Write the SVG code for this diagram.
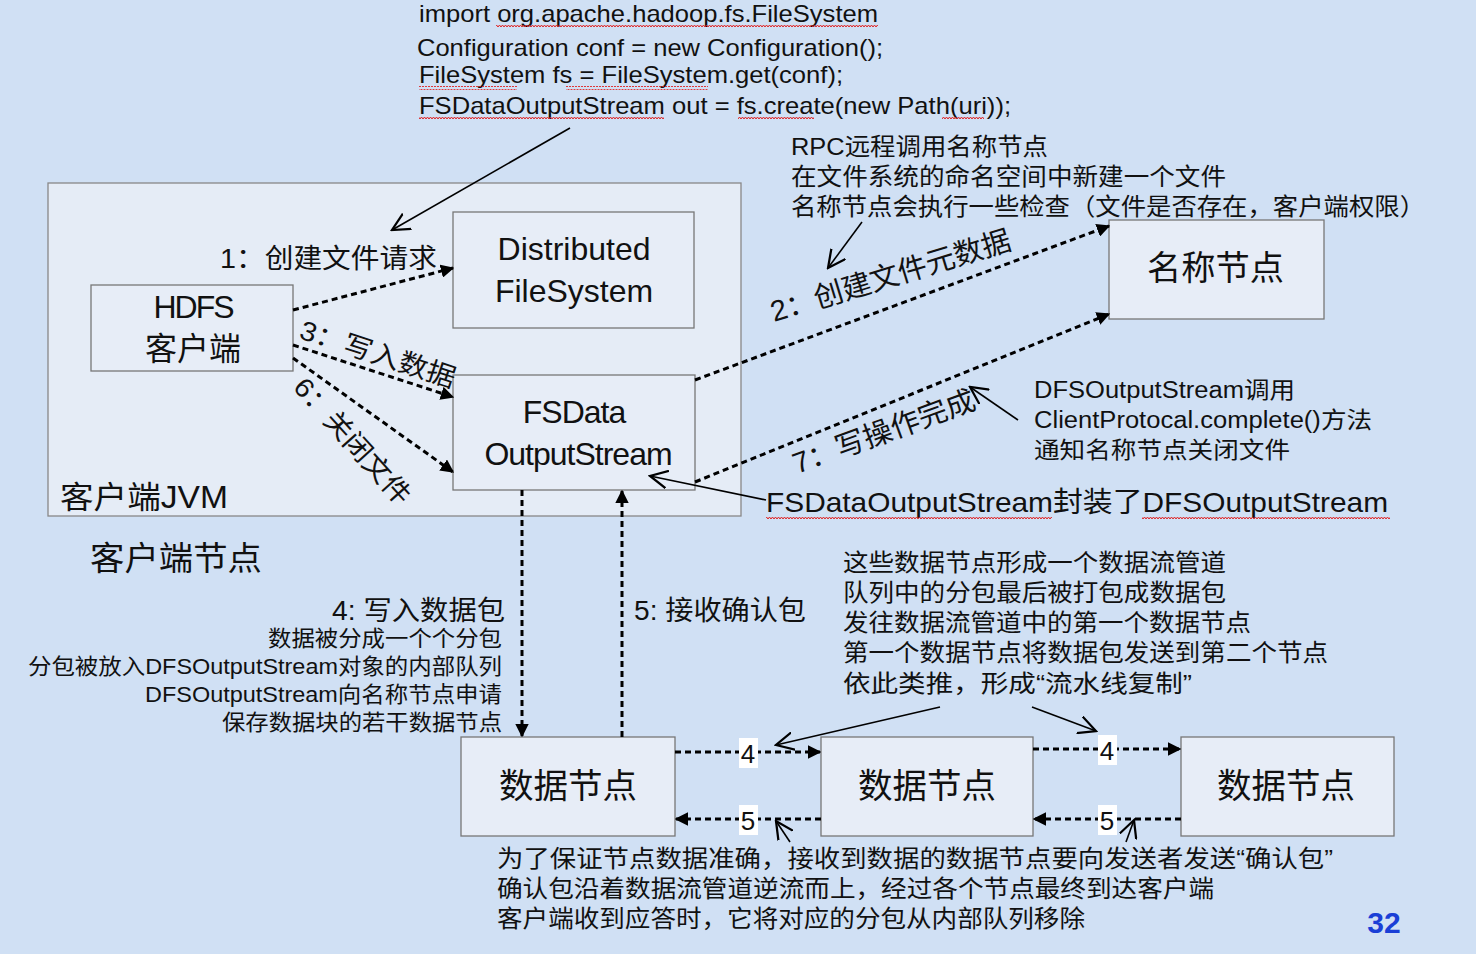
<svg xmlns="http://www.w3.org/2000/svg" width="1476" height="954" viewBox="0 0 1476 954">
<style>
text{font-family:"Liberation Sans","Noto Sans CJK SC",sans-serif;fill:#111}
.box{fill:#e7edf7;stroke:#777;stroke-width:1.3}
.dash{fill:none;stroke:#000;stroke-width:3;stroke-dasharray:6 4}
.thin{fill:none;stroke:#000;stroke-width:1.6}
.code{font-size:24px}
.cn{font-size:24px}
.big{font-size:34px}
.nd{font-size:34px}
</style>
<defs>
<marker id="fa" viewBox="0 0 10 10" refX="9" refY="5" markerWidth="4.5" markerHeight="4.5" orient="auto" markerUnits="strokeWidth"><path d="M0,0 L10,5 L0,10 z" fill="#000"/></marker>
<marker id="oa" viewBox="0 0 12 12" refX="11" refY="6" markerWidth="12" markerHeight="12" orient="auto" markerUnits="strokeWidth"><path d="M0,0.5 L11,6 L0,11.5" fill="none" stroke="#000" stroke-width="1.4"/></marker>
<pattern id="wave" width="6" height="4" patternUnits="userSpaceOnUse"><path d="M0,3 L1.5,1 L3,3 L4.5,1 L6,3" fill="none" stroke="#e02020" stroke-width="1"/></pattern>
</defs>
<rect x="0" y="0" width="1476" height="954" fill="#d0e0f4"/>

<g id="code">
<text class="code" x="419" y="22" textLength="459" lengthAdjust="spacingAndGlyphs">import org.apache.hadoop.fs.FileSystem</text>
<text class="code" x="417" y="56" textLength="466" lengthAdjust="spacingAndGlyphs">Configuration conf = new Configuration();</text>
<text class="code" x="419" y="83" textLength="424" lengthAdjust="spacingAndGlyphs">FileSystem fs = FileSystem.get(conf);</text>
<text class="code" x="419" y="114" textLength="592" lengthAdjust="spacingAndGlyphs">FSDataOutputStream out = fs.create(new Path(uri));</text>
<rect x="496" y="24" width="382" height="4" fill="url(#wave)"/>
<rect x="419" y="86" width="98" height="4" fill="url(#wave)"/>
<rect x="566" y="86" width="142" height="4" fill="url(#wave)"/>
<rect x="419" y="117" width="245" height="4" fill="url(#wave)"/>
<rect x="738" y="117" width="76" height="4" fill="url(#wave)"/>
<rect x="942" y="117" width="42" height="4" fill="url(#wave)"/>
</g>

<g id="jvm">
<rect x="48" y="183" width="693" height="333" fill="#e5ecf6" stroke="#888" stroke-width="1.3"/>
<text x="60" y="508" style="font-size:31px" textLength="168" lengthAdjust="spacingAndGlyphs">客户端JVM</text>
</g>

<g id="hdfs-client">
<rect class="box" x="91" y="285" width="202" height="86"/>
<text x="193" y="318" style="font-size:32px;letter-spacing:-2px" text-anchor="middle">HDFS</text>
<text x="193" y="360" style="font-size:32px" text-anchor="middle">客户端</text>
</g>

<g id="dfs">
<rect class="box" x="453" y="212" width="241" height="116"/>
<text x="574" y="260" style="font-size:32px" text-anchor="middle">Distributed</text>
<text x="574" y="302" style="font-size:32px" text-anchor="middle">FileSystem</text>
</g>

<g id="fsdos">
<rect class="box" x="453" y="375" width="242" height="115"/>
<text x="574" y="423" style="font-size:32px;letter-spacing:-1px" text-anchor="middle">FSData</text>
<text x="578" y="465" style="font-size:32px;letter-spacing:-1px" text-anchor="middle">OutputStream</text>
</g>

<g id="namenode">
<rect class="box" x="1109" y="220" width="215" height="99"/>
<text x="1147" y="280" class="big" textLength="137" lengthAdjust="spacingAndGlyphs">名称节点</text>
</g>

<g id="dn1">
<rect class="box" x="461" y="737" width="214" height="99"/>
<text x="499" y="798" class="nd" textLength="138" lengthAdjust="spacingAndGlyphs">数据节点</text>
</g>
<g id="dn2">
<rect class="box" x="821" y="737" width="212" height="99"/>
<text x="858" y="798" class="nd" textLength="138" lengthAdjust="spacingAndGlyphs">数据节点</text>
</g>
<g id="dn3">
<rect class="box" x="1181" y="737" width="213" height="99"/>
<text x="1217" y="798" class="nd" textLength="138" lengthAdjust="spacingAndGlyphs">数据节点</text>
</g>

<g id="connectors">
<line class="thin" x1="570" y1="128" x2="392" y2="230" marker-end="url(#oa)"/>
<line class="dash" x1="293" y1="310" x2="453" y2="268" marker-end="url(#fa)"/>
<line class="dash" x1="293" y1="345" x2="453" y2="397" marker-end="url(#fa)"/>
<line class="dash" x1="293" y1="358" x2="453" y2="472" marker-end="url(#fa)"/>
<line class="dash" x1="695" y1="380" x2="1109" y2="226" marker-end="url(#fa)"/>
<line class="dash" x1="695" y1="482" x2="1109" y2="314" marker-end="url(#fa)"/>
<line class="thin" x1="862" y1="222" x2="828" y2="268" marker-end="url(#oa)"/>
<line class="thin" x1="1018" y1="420" x2="970" y2="387" marker-end="url(#oa)"/>
<line class="thin" x1="766" y1="500" x2="650" y2="476" marker-end="url(#oa)"/>
<line class="dash" x1="522" y1="490" x2="522" y2="736" marker-end="url(#fa)"/>
<line class="dash" x1="622" y1="737" x2="622" y2="491" marker-end="url(#fa)"/>
<line class="dash" x1="675" y1="752" x2="820" y2="752" marker-end="url(#fa)"/>
<line class="dash" x1="1033" y1="749" x2="1180" y2="749" marker-end="url(#fa)"/>
<line class="dash" x1="821" y1="819" x2="676" y2="819" marker-end="url(#fa)"/>
<line class="dash" x1="1181" y1="819" x2="1034" y2="819" marker-end="url(#fa)"/>
<line class="thin" x1="940" y1="707" x2="776" y2="745" marker-end="url(#oa)"/>
<line class="thin" x1="1032" y1="707" x2="1096" y2="731" marker-end="url(#oa)"/>
<line class="thin" x1="790" y1="842" x2="776" y2="821" marker-end="url(#oa)"/>
<line class="thin" x1="1126" y1="842" x2="1134" y2="820" marker-end="url(#oa)"/>
<rect x="739" y="738" width="19" height="30" fill="#fff"/>
<text x="748" y="763" style="font-size:26px" text-anchor="middle">4</text>
<rect x="1098" y="735" width="19" height="30" fill="#fff"/>
<text x="1107" y="760" style="font-size:26px" text-anchor="middle">4</text>
<rect x="739" y="805" width="19" height="30" fill="#fff"/>
<text x="748" y="830" style="font-size:26px" text-anchor="middle">5</text>
<rect x="1098" y="805" width="19" height="30" fill="#fff"/>
<text x="1107" y="830" style="font-size:26px" text-anchor="middle">5</text>
</g>

<g id="labels">
<text x="220" y="268" style="font-size:27px" textLength="217" lengthAdjust="spacingAndGlyphs">1：创建文件请求</text>
<text transform="translate(298,338) rotate(18)" style="font-size:27px" textLength="162" lengthAdjust="spacingAndGlyphs">3：写入数据</text>
<text transform="translate(292,388) rotate(48)" style="font-size:27px" textLength="160" lengthAdjust="spacingAndGlyphs">6：关闭文件</text>
<text transform="translate(774,322) rotate(-17)" style="font-size:29px" textLength="250" lengthAdjust="spacingAndGlyphs">2：创建文件元数据</text>
<text transform="translate(797,474) rotate(-20)" style="font-size:29px" textLength="192" lengthAdjust="spacingAndGlyphs">7：写操作完成</text>
<text x="791" y="155" class="cn" textLength="257" lengthAdjust="spacingAndGlyphs">RPC远程调用名称节点</text>
<text x="791" y="185" class="cn" textLength="435" lengthAdjust="spacingAndGlyphs">在文件系统的命名空间中新建一个文件</text>
<text x="791" y="215" class="cn" textLength="634" lengthAdjust="spacingAndGlyphs">名称节点会执行一些检查（文件是否存在，客户端权限）</text>
<text x="1034" y="398" style="font-size:23px" textLength="261" lengthAdjust="spacingAndGlyphs">DFSOutputStream调用</text>
<text x="1034" y="428" style="font-size:23px" textLength="338" lengthAdjust="spacingAndGlyphs">ClientProtocal.complete()方法</text>
<text x="1034" y="458" style="font-size:23px" textLength="256" lengthAdjust="spacingAndGlyphs">通知名称节点关闭文件</text>
<text x="766" y="512" style="font-size:28px" textLength="622" lengthAdjust="spacingAndGlyphs">FSDataOutputStream封装了DFSOutputStream</text>
<rect x="766" y="515" width="286" height="4" fill="url(#wave)"/>
<rect x="1142" y="515" width="248" height="4" fill="url(#wave)"/>
<text x="90" y="570" style="font-size:33px" textLength="172" lengthAdjust="spacingAndGlyphs">客户端节点</text>
<text x="332" y="620" style="font-size:27px" textLength="173" lengthAdjust="spacingAndGlyphs">4: 写入数据包</text>
<text x="268" y="646" style="font-size:22px" textLength="234" lengthAdjust="spacingAndGlyphs">数据被分成一个个分包</text>
<text x="28" y="674" style="font-size:22px" textLength="474" lengthAdjust="spacingAndGlyphs">分包被放入DFSOutputStream对象的内部队列</text>
<text x="145" y="702" style="font-size:22px" textLength="357" lengthAdjust="spacingAndGlyphs">DFSOutputStream向名称节点申请</text>
<text x="222" y="730" style="font-size:22px" textLength="280" lengthAdjust="spacingAndGlyphs">保存数据块的若干数据节点</text>
<text x="634" y="620" style="font-size:27px" textLength="172" lengthAdjust="spacingAndGlyphs">5: 接收确认包</text>
<text x="843" y="571" class="cn" textLength="383" lengthAdjust="spacingAndGlyphs">这些数据节点形成一个数据流管道</text>
<text x="843" y="601" class="cn" textLength="383" lengthAdjust="spacingAndGlyphs">队列中的分包最后被打包成数据包</text>
<text x="843" y="631" class="cn" textLength="408" lengthAdjust="spacingAndGlyphs">发往数据流管道中的第一个数据节点</text>
<text x="843" y="661" class="cn" textLength="485" lengthAdjust="spacingAndGlyphs">第一个数据节点将数据包发送到第二个节点</text>
<text x="843" y="692" class="cn" textLength="349" lengthAdjust="spacingAndGlyphs">依此类推，形成“流水线复制”</text>
<text x="497" y="867" class="cn" textLength="836" lengthAdjust="spacingAndGlyphs">为了保证节点数据准确，接收到数据的数据节点要向发送者发送“确认包”</text>
<text x="497" y="897" class="cn" textLength="717" lengthAdjust="spacingAndGlyphs">确认包沿着数据流管道逆流而上，经过各个节点最终到达客户端</text>
<text x="497" y="927" class="cn" textLength="588" lengthAdjust="spacingAndGlyphs">客户端收到应答时，它将对应的分包从内部队列移除</text>
<text x="1384" y="933" style="font-size:30px;font-weight:bold;fill:#1a3fd6" text-anchor="middle">32</text>
</g>
</svg>
